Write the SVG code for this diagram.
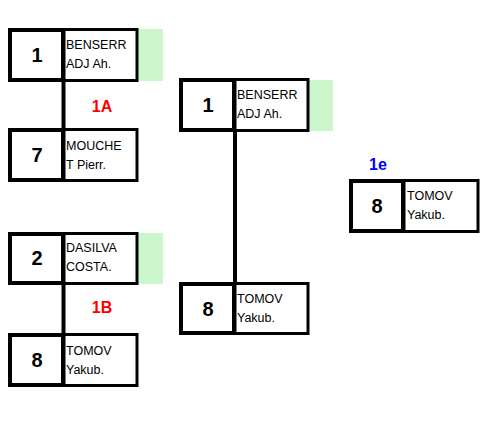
<svg xmlns="http://www.w3.org/2000/svg" width="483" height="437" viewBox="0 0 483 437">
<style>
.seed{fill:#fff;stroke:#000;stroke-width:4}
.name{fill:#fff;stroke:#000;stroke-width:3}
.win{fill:#ccf7cc;stroke:none}
.num{font-family:"Liberation Sans",Arial,sans-serif;font-weight:bold;font-size:20px;text-anchor:middle}
.nm{font-family:"Liberation Sans",Arial,sans-serif;font-size:12.5px}
.lbl{font-family:"Liberation Sans",Arial,sans-serif;font-weight:bold;font-size:16px;text-anchor:middle}
.conn{stroke:#000;stroke-width:4;fill:none}
</style>
<rect width="483" height="437" fill="#fff"/>
<g id="connectors">
<line class="conn" x1="63.5" y1="80" x2="63.5" y2="130"/>
<line class="conn" x1="63.5" y1="282" x2="63.5" y2="335"/>
<line class="conn" x1="235" y1="130" x2="235" y2="284"/>
</g>
<g id="label-1A"><text class="lbl" x="102" y="112" fill="#ff0000">1A</text></g>
<g id="label-1B"><text class="lbl" x="102" y="313" fill="#ff0000">1B</text></g>
<g id="label-1e"><text class="lbl" x="378" y="170" fill="#0000ff">1e</text></g>
<g id="n1">
<rect class="win" x="137" y="29" width="26" height="52"/>
<rect class="name" x="64" y="29.5" width="73" height="51"/>
<rect class="seed" x="10" y="30" width="53" height="50"/>
<text class="num" x="37" y="62">1</text>
<text class="nm" x="66" y="49">BENSERR</text>
<text class="nm" x="66" y="68">ADJ Ah.</text>
</g>
<g id="n2">
<rect class="name" x="64" y="129.5" width="73" height="51"/>
<rect class="seed" x="10" y="130" width="53" height="50"/>
<text class="num" x="37" y="162">7</text>
<text class="nm" x="66" y="150">MOUCHE</text>
<text class="nm" x="66" y="169">T Pierr.</text>
</g>
<g id="n3">
<rect class="win" x="137" y="233" width="26" height="51"/>
<rect class="name" x="64" y="233.5" width="73" height="50"/>
<rect class="seed" x="10" y="234" width="53" height="49"/>
<text class="num" x="37" y="265">2</text>
<text class="nm" x="66" y="252">DASILVA</text>
<text class="nm" x="66" y="271">COSTA.</text>
</g>
<g id="n4">
<rect class="name" x="64" y="334.5" width="73" height="51"/>
<rect class="seed" x="10" y="335" width="53" height="50"/>
<text class="num" x="37" y="367">8</text>
<text class="nm" x="66" y="355">TOMOV</text>
<text class="nm" x="66" y="374">Yakub.</text>
</g>
<g id="n5">
<rect class="win" x="308" y="80" width="25" height="51"/>
<rect class="name" x="235" y="79.5" width="73" height="51"/>
<rect class="seed" x="181" y="80" width="53" height="50"/>
<text class="num" x="208" y="112">1</text>
<text class="nm" x="237" y="99">BENSERR</text>
<text class="nm" x="237" y="118">ADJ Ah.</text>
</g>
<g id="n6">
<rect class="name" x="235" y="283.5" width="73" height="50"/>
<rect class="seed" x="181" y="284" width="53" height="49"/>
<text class="num" x="208" y="316">8</text>
<text class="nm" x="237" y="303">TOMOV</text>
<text class="nm" x="237" y="322">Yakub.</text>
</g>
<g id="n7">
<rect class="name" x="404" y="180.5" width="74" height="51"/>
<rect class="seed" x="351" y="181" width="52" height="50"/>
<text class="num" x="377" y="213">8</text>
<text class="nm" x="407" y="200">TOMOV</text>
<text class="nm" x="407" y="219">Yakub.</text>
</g>
</svg>
